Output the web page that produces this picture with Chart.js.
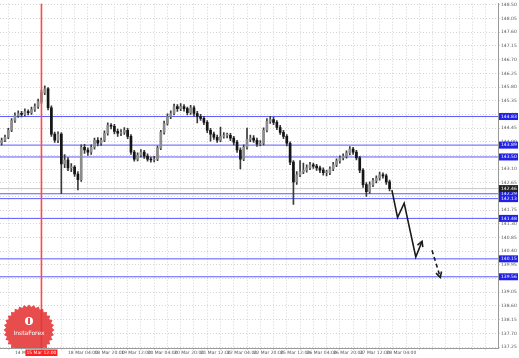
<!DOCTYPE html>
<html>
<head>
<meta charset="utf-8">
<script src="https://cdn.jsdelivr.net/npm/chart.js@4.4.0/dist/chart.umd.min.js"></script>
<style>html,body{margin:0;padding:0;background:#fff;}</style>
</head>
<body>
<canvas id="chart" width="519" height="358"></canvas>
<script>
// 2時間足の終値 (14 Mar 12:00 から)
const closes = [144.05,144.15,144.38,144.70,144.86,144.93,144.90,144.99,144.96,145.06,
  145.16,145.32,145.61,145.74,145.12,144.25,144.05,144.25,143.27,143.40,
  143.14,143.17,142.94,142.75,143.82,143.73,143.66,143.82,144.05,143.95,
  144.05,144.28,144.54,144.51,144.34,144.28,144.31,144.38,144.18,143.66,
  143.43,143.56,143.66,143.53,143.43,143.40,143.43,143.79,144.31,144.60,
  144.83,144.93,145.16,145.09,145.16,145.09,144.96,145.12,144.93,144.83,
  144.77,144.64,144.38,144.25,144.15,144.05,144.18,144.21,144.21,144.12,
  143.99,143.73,143.43,143.82,144.08,144.12,144.05,143.92,143.95,144.38,
  144.67,144.73,144.64,144.47,144.31,144.18,143.95,143.33,142.68,142.91,
  143.01,143.07,143.14,143.24,143.20,143.14,143.07,142.98,142.98,143.11,
  143.24,143.37,143.47,143.53,143.63,143.76,143.66,143.47,143.07,142.59,
  142.36,142.59,142.72,142.81,142.91,142.88,142.68,142.46]
const highs = [144.12,144.22,144.44,144.76,144.95,145.02,145.00,145.08,145.05,145.14,
  145.25,145.40,145.70,145.84,145.78,145.18,144.32,144.33,144.30,143.58,
  143.48,143.28,143.22,143.02,143.90,143.92,143.80,143.90,144.12,144.14,
  144.12,144.36,144.62,144.60,144.57,144.42,144.40,144.47,144.44,144.24,
  143.72,143.64,143.74,143.72,143.60,143.50,143.52,143.86,144.38,144.68,
  144.92,145.02,145.24,145.22,145.26,145.22,145.14,145.20,145.18,145.00,
  144.90,144.84,144.70,144.44,144.32,144.22,144.48,144.30,144.29,144.28,
  144.18,144.05,143.80,143.90,144.45,144.22,144.20,144.12,144.04,144.46,
  144.76,144.84,144.80,144.70,144.54,144.38,144.24,144.00,143.38,143.02,
  143.38,143.30,143.24,143.32,143.30,143.26,143.20,143.14,143.06,143.18,
  143.32,143.44,143.54,143.60,143.70,143.84,143.82,143.72,143.52,143.12,
  142.66,142.68,142.80,142.88,143.00,142.98,142.94,142.74]
const lows = [143.90,144.00,144.10,144.33,144.64,144.80,144.82,144.85,144.88,144.90,
  145.00,145.10,145.26,145.55,145.05,144.18,143.98,143.97,142.29,143.15,
  143.05,143.02,142.86,142.42,142.70,143.62,143.55,143.58,143.76,143.86,
  143.88,144.00,144.22,144.42,144.26,144.18,144.20,144.24,144.10,143.58,
  143.36,143.37,143.50,143.45,143.36,143.33,143.34,143.38,143.74,144.25,
  144.55,144.76,144.88,145.00,145.02,145.01,144.88,144.90,144.84,144.62,
  144.70,144.56,144.30,144.02,144.08,143.98,144.00,144.12,144.13,144.04,
  143.90,143.65,143.11,143.38,143.76,144.00,143.98,143.85,143.86,143.90,
  144.32,144.60,144.56,144.40,144.24,144.10,143.86,143.25,141.94,142.60,
  142.85,142.95,143.00,143.08,143.12,143.06,142.98,142.90,142.88,142.92,
  143.05,143.18,143.30,143.40,143.46,143.57,143.58,143.40,142.98,142.50,
  142.20,142.30,142.52,142.65,142.74,142.80,142.60,142.38]
const firstOpen = 143.95

// 水平ライン
const levels = [144.83, 143.89, 143.50, 142.29, 142.13, 141.48, 140.15, 139.56]
const lastPrice = 142.46
const markIndex = 12

// 時間ラベル (4本目から8本ごと)
const timeLabels = ['14 Mar 20:00','15 Mar 12:00','18 Mar 04:00','18 Mar 20:00','19 Mar 12:00',
  '20 Mar 04:00','20 Mar 20:00','21 Mar 12:00','22 Mar 04:00','22 Mar 20:00',
  '25 Mar 12:00','26 Mar 04:00','26 Mar 20:00','27 Mar 12:00','28 Mar 04:00']

// 予想の矢印
const forecastX = [117.7, 119.4, 121.4, 124.9, 126.8]
const forecastY = [142.41, 141.51, 141.98, 140.21, 140.73]
const forecast2X = [129.8, 132.3]
const forecast2Y = [140.43, 139.54]

const yTickStart = 137.25
const yTickStep = 0.45

// データ整形
let wickData = []
let bodyData = []
let bodyColors = []
for (let i = 0; i < closes.length; i++) {
    let open = i == 0 ? firstOpen : closes[i - 1]
    wickData.push({x: i, y: [lows[i], highs[i]]})
    bodyData.push({x: i, y: [open, closes[i]]})
    bodyColors.push(closes[i] >= open ? '#8c8c8c' : '#151515')
}

let datasets = []
levels.forEach(v => {
    datasets.push({
        type: 'line', order: 5,
        data: [{x: -0.5, y: v}, {x: 149.7, y: v}],
        borderColor: '#5a5aff', borderWidth: 1, pointRadius: 0
    })
})
datasets.push({
    type: 'line', order: 5,
    data: [{x: -0.5, y: lastPrice}, {x: 149.7, y: lastPrice}],
    borderColor: '#c8c8c8', borderWidth: 1, pointRadius: 0
})
datasets.push({
    type: 'line', order: -1,
    data: [{x: markIndex, y: 137.2}, {x: markIndex, y: 148.6}],
    borderColor: '#ff4848', borderWidth: 1.6, pointRadius: 0
})
datasets.push({
    type: 'bar', order: 2, grouped: false,
    data: wickData, backgroundColor: '#3a3a3a', barThickness: 1, borderWidth: 0
})
datasets.push({
    type: 'bar', order: 1, grouped: false,
    data: bodyData, backgroundColor: bodyColors, barThickness: 2, minBarLength: 1, borderWidth: 0
})
datasets.push({
    type: 'line', order: 0,
    data: forecastX.map((x, i) => ({x: x, y: forecastY[i]})),
    borderColor: '#1a1a1a', borderWidth: 1.6, pointRadius: 0, tension: 0
})
datasets.push({
    type: 'line', order: 0,
    data: forecast2X.map((x, i) => ({x: x, y: forecast2Y[i]})),
    borderColor: '#1a1a1a', borderWidth: 1.6, borderDash: [4, 3], pointRadius: 0
})

// 矢印・ラベル・ロゴ
const decor = {
    id: 'decor',
    afterDatasetsDraw(chart) {
        const ctx = chart.ctx
        const xs = chart.scales.x, ys = chart.scales.y
        function head(x1, y1, x2, y2) {
            let ax = xs.getPixelForValue(x1), ay = ys.getPixelForValue(y1)
            let bx = xs.getPixelForValue(x2), by = ys.getPixelForValue(y2)
            let a = Math.atan2(by - ay, bx - ax)
            ctx.save()
            ctx.strokeStyle = '#1a1a1a'
            ctx.lineWidth = 1.6
            ctx.beginPath()
            ctx.moveTo(bx - 6 * Math.cos(a - 0.5), by - 6 * Math.sin(a - 0.5))
            ctx.lineTo(bx, by)
            ctx.lineTo(bx - 6 * Math.cos(a + 0.5), by - 6 * Math.sin(a + 0.5))
            ctx.stroke()
            ctx.restore()
        }
        let n = forecastX.length
        head(forecastX[n - 2], forecastY[n - 2], forecastX[n - 1], forecastY[n - 1])
        head(forecast2X[0], forecast2Y[0], forecast2X[1], forecast2Y[1])
    },
    afterDraw(chart) {
        const ctx = chart.ctx
        const xs = chart.scales.x, ys = chart.scales.y
        const area = chart.chartArea

        // ロゴ
        ctx.save()
        ctx.beginPath()
        ctx.rect(area.left, area.top, area.right - area.left, area.bottom - area.top)
        ctx.clip()
        let cx = 29, cy = 330
        ctx.beginPath()
        for (let k = 0; k < 64; k++) {
            let r = k % 2 == 0 ? 25.5 : 23
            let a = k / 64 * Math.PI * 2
            let px = cx + r * Math.cos(a), py = cy + r * Math.sin(a)
            if (k == 0) ctx.moveTo(px, py); else ctx.lineTo(px, py)
        }
        ctx.closePath()
        ctx.fillStyle = 'rgba(228,52,52,0.88)'
        ctx.fill()
        ctx.fillStyle = '#fff'
        ctx.beginPath()
        ctx.arc(cx, cy - 9, 4, 0, Math.PI * 2)
        ctx.fill()
        ctx.fillStyle = 'rgba(228,52,52,0.9)'
        ctx.fillRect(cx - 1, cy - 12, 2, 6)
        ctx.fillStyle = '#fff'
        ctx.font = '6px "DejaVu Sans"'
        ctx.textAlign = 'center'
        ctx.textBaseline = 'middle'
        ctx.fillText('InstaForex', cx, cy + 3)
        ctx.restore()

        // 価格ラベル
        ctx.save()
        ctx.font = '4.5px "DejaVu Sans"'
        ctx.textAlign = 'left'
        ctx.textBaseline = 'middle'
        levels.forEach(v => {
            let y = ys.getPixelForValue(v)
            ctx.fillStyle = '#2020e6'
            ctx.fillRect(area.right + 1, y - 3.5, 19, 7)
            ctx.fillStyle = '#fff'
            ctx.fillText(v.toFixed(2), area.right + 3, y)
        })
        let ly = ys.getPixelForValue(lastPrice)
        ctx.fillStyle = '#222'
        ctx.fillRect(area.right + 1, ly - 3.5, 19, 7)
        ctx.fillStyle = '#fff'
        ctx.fillText(lastPrice.toFixed(2), area.right + 3, ly)

        // 時間ラベル (赤)
        let mx = xs.getPixelForValue(markIndex)
        ctx.fillStyle = '#ff2020'
        ctx.fillRect(mx - 16, area.bottom + 1.5, 32, 6.5)
        ctx.fillStyle = '#fff'
        ctx.textAlign = 'center'
        ctx.fillText(timeLabels[1], mx, area.bottom + 5)
        ctx.restore()
    }
}

new Chart(document.getElementById('chart'), {
    type: 'bar',
    data: {datasets: datasets},
    options: {
        responsive: false,
        animation: false,
        layout: {padding: 0},
        plugins: {legend: {display: false}, tooltip: {enabled: false}},
        scales: {
            x: {
                type: 'linear', min: -0.5, max: 149.7, offset: false,
                afterFit: s => { s.height = 10 },
                afterBuildTicks: s => {
                    let t = []
                    for (let i = 0; i <= 148; i += 4) if (i != markIndex) t.push({value: i})
                    s.ticks = t
                },
                grid: {color: '#d4d4d4', lineWidth: 1, tickLength: 2},
                border: {display: true, color: '#9a9a9a', dash: [1, 2]},
                ticks: {
                    autoSkip: false, maxRotation: 0, align: 'start', padding: 0,
                    color: '#555', font: {family: 'DejaVu Sans', size: 4.5},
                    callback: v => {
                        if ((v - 4) % 8 != 0) return ''
                        let k = (v - 4) / 8
                        return timeLabels[k] || ''
                    }
                }
            },
            y: {
                type: 'linear', position: 'right', min: 137.2175, max: 148.541,
                afterFit: s => { s.width = 21 },
                afterBuildTicks: s => {
                    let t = []
                    for (let k = 0; k <= 25; k++) t.push({value: yTickStart + k * yTickStep})
                    s.ticks = t
                },
                grid: {color: '#d4d4d4', lineWidth: 1, tickLength: 2},
                border: {display: true, color: '#9a9a9a', dash: [1, 2]},
                ticks: {
                    padding: 1, color: '#555', font: {family: 'DejaVu Sans', size: 4.5},
                    callback: v => v.toFixed(2)
                }
            }
        }
    },
    plugins: [decor]
});
</script>
</body>
</html>
